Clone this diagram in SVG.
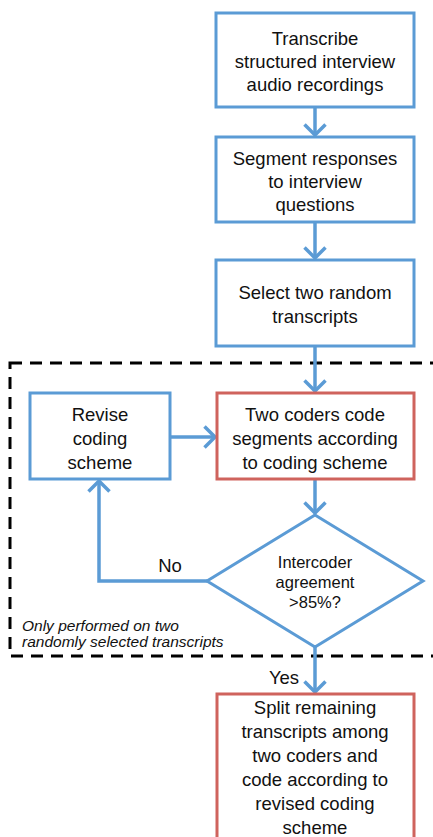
<svg xmlns="http://www.w3.org/2000/svg" width="433" height="837" viewBox="0 0 433 837">
<style>
.b{fill:#fff;stroke:#5B9BD5;stroke-width:3}
.r{fill:#fff;stroke:#CF635D;stroke-width:3}
.t{font-family:"Liberation Sans",Arial,sans-serif;font-size:18.5px;fill:#111;text-anchor:middle}
.s{font-size:16.5px}
.c{fill:none;stroke:#5B9BD5;stroke-width:3.5}
.i{font-family:"Liberation Sans",Arial,sans-serif;font-size:15.5px;font-style:italic;fill:#111}
</style>
<defs>
<marker id="a" markerUnits="userSpaceOnUse" markerWidth="14" markerHeight="24" viewBox="0 0 14 24" refX="12" refY="12" orient="auto">
<path d="M1.5,1.5 L12,12 L1.5,22.5" fill="none" stroke="#5B9BD5" stroke-width="3.5"/>
</marker>
</defs>
<rect x="10" y="363" width="440" height="293" fill="none" stroke="#000" stroke-width="3" stroke-dasharray="12,8"/>
<g id="connectors">
<line class="c" x1="315" y1="107" x2="315" y2="135" marker-end="url(#a)"/>
<line class="c" x1="315" y1="222" x2="315" y2="258" marker-end="url(#a)"/>
<line class="c" x1="315" y1="346" x2="315" y2="391" marker-end="url(#a)"/>
<line class="c" x1="170" y1="437" x2="215" y2="437" marker-end="url(#a)"/>
<line class="c" x1="315" y1="479" x2="315" y2="513" marker-end="url(#a)"/>
<polyline class="c" points="207,581 99,581 99,481" marker-end="url(#a)"/>
<line class="c" x1="315" y1="647" x2="315" y2="692" marker-end="url(#a)"/>
<text class="t" x="170" y="572">No</text>
<text class="t" x="284" y="684">Yes</text>
</g>
<g id="n1"><rect class="b" x="216" y="13" width="198" height="94"/>
<text class="t" x="315" y="45">Transcribe</text><text class="t" x="315" y="68">structured interview</text><text class="t" x="315" y="91">audio recordings</text></g>
<g id="n2"><rect class="b" x="216" y="137" width="198" height="85"/>
<text class="t" x="315" y="165">Segment responses</text><text class="t" x="315" y="188">to interview</text><text class="t" x="315" y="211">questions</text></g>
<g id="n3"><rect class="b" x="216" y="260" width="198" height="86"/>
<text class="t" x="315" y="299">Select two random</text><text class="t" x="315" y="323">transcripts</text></g>
<g id="n4"><rect class="b" x="30" y="393" width="140" height="86"/>
<text class="t" x="100" y="421">Revise</text><text class="t" x="100" y="445">coding</text><text class="t" x="100" y="469">scheme</text></g>
<g id="n5"><rect class="r" x="217" y="393" width="197" height="86"/>
<text class="t" x="315" y="421">Two coders code</text><text class="t" x="315" y="445">segments according</text><text class="t" x="315" y="469">to coding scheme</text></g>
<g id="n6"><polygon class="b" points="315,515 423,581 315,647 207,581"/>
<text class="t s" x="315" y="568">Intercoder</text><text class="t s" x="315" y="588">agreement</text><text class="t s" x="315" y="608">&gt;85%?</text></g>
<g id="note"><text class="i" x="22" y="631">Only performed on two</text><text class="i" x="22" y="647">randomly selected transcripts</text></g>
<g id="n7"><rect class="r" x="217" y="694" width="197" height="160"/>
<text class="t" x="315" y="714">Split remaining</text><text class="t" x="315" y="738">transcripts among</text><text class="t" x="315" y="762">two coders and</text><text class="t" x="315" y="786">code according to</text><text class="t" x="315" y="810">revised coding</text><text class="t" x="315" y="834">scheme</text></g>
</svg>
